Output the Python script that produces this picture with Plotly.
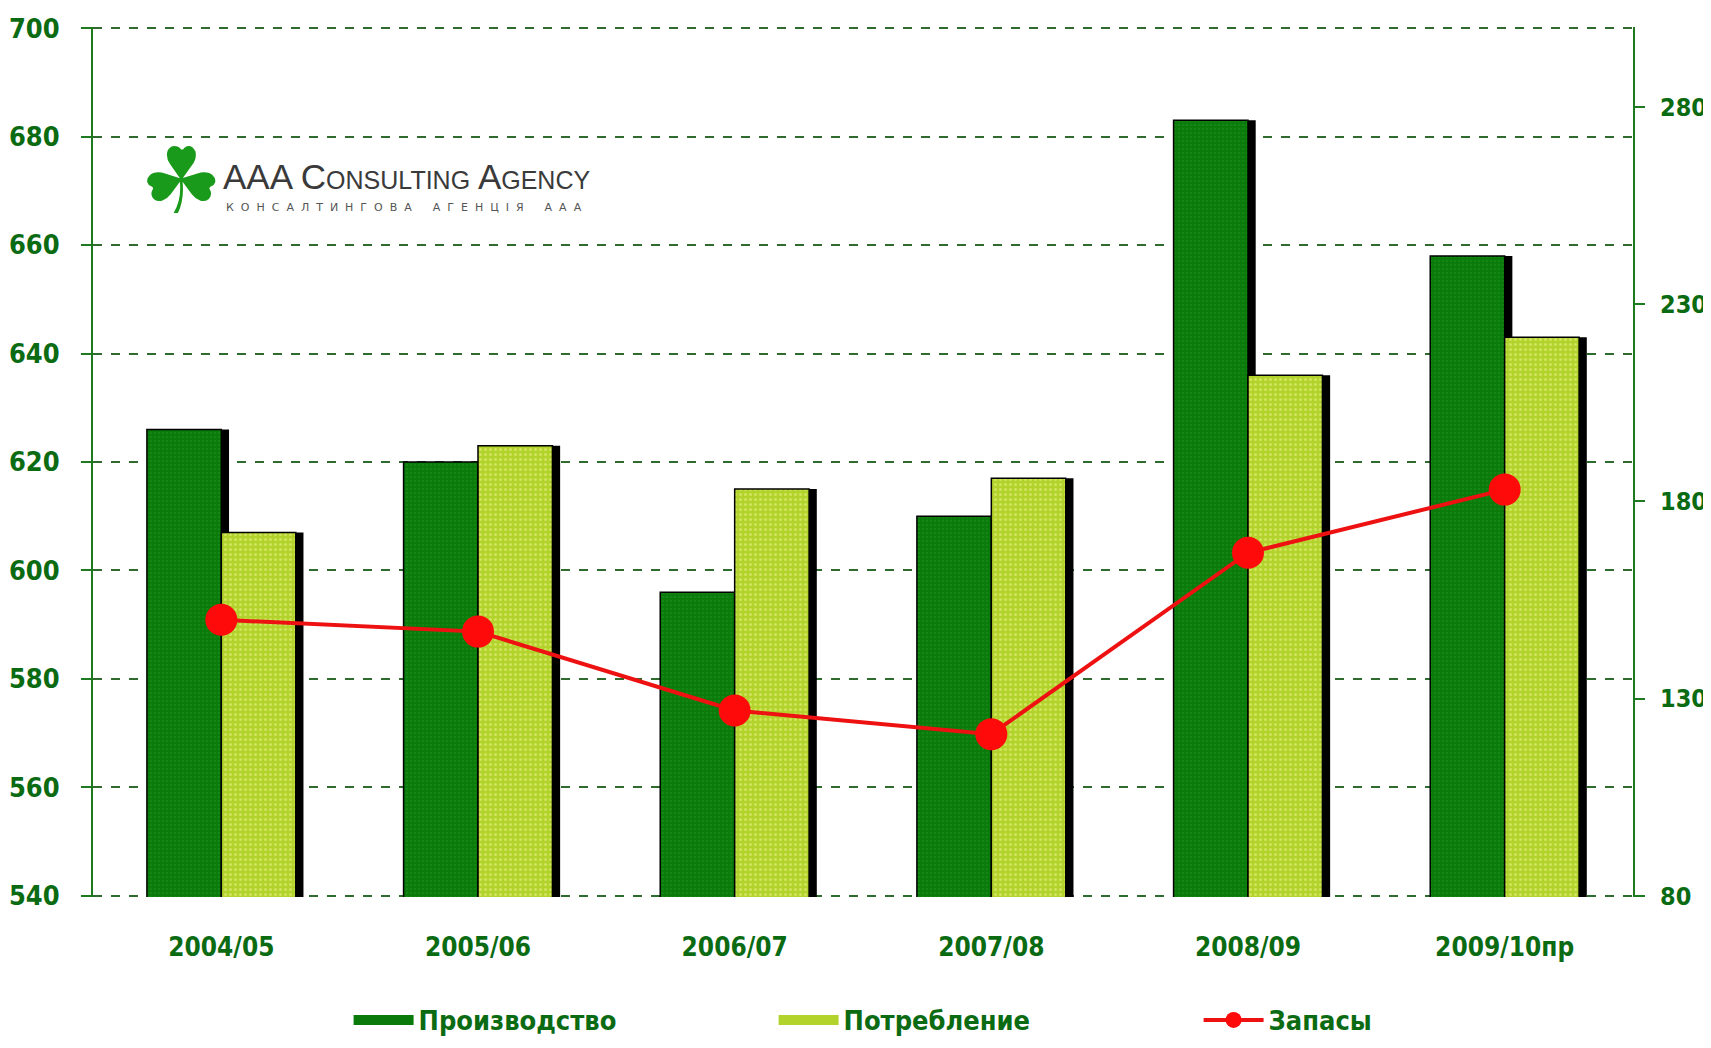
import plotly.graph_objects as go

categories = ["2004/05", "2005/06", "2006/07", "2007/08", "2008/09", "2009/10пр"]
production = [626, 620, 596, 610, 683, 658]
consumption = [607, 623, 615, 617, 636, 643]
stocks = [150, 147, 127, 121, 167, 183]

left_ticks = [540, 560, 580, 600, 620, 640, 660, 680, 700]
right_ticks = [80, 130, 180, 230, 280]

TXT = "#0b6b12"
FONT = "DejaVu Sans Condensed"
BW = 0.29
SH = 0.03
PROD_C = "#0a7a0a"
CONS_C = "#b2d22c"

fig = go.Figure()

# shadows + bars
fig.add_trace(go.Bar(x=categories, y=production, offset=-BW + SH, width=BW,
                     marker=dict(color="black", line=dict(width=0)),
                     showlegend=False, hoverinfo="skip"))
fig.add_trace(go.Bar(x=categories, y=production, offset=-BW, width=BW, name="Производство",
                     showlegend=False,
                     marker=dict(color=PROD_C, line=dict(color="black", width=1.5),
                                 pattern=dict(shape=".", bgcolor=PROD_C, fgcolor="#1c941c",
                                              size=4, solidity=0.35))))
fig.add_trace(go.Bar(x=categories, y=consumption, offset=SH, width=BW,
                     marker=dict(color="black", line=dict(width=0)),
                     showlegend=False, hoverinfo="skip"))
fig.add_trace(go.Bar(x=categories, y=consumption, offset=0, width=BW, name="Потребление",
                     showlegend=False,
                     marker=dict(color=CONS_C, line=dict(color="black", width=1.5),
                                 pattern=dict(shape=".", bgcolor=CONS_C, fgcolor="#eef58a",
                                              size=5, solidity=0.3))))
fig.add_trace(go.Scatter(x=categories, y=stocks, name="Запасы", yaxis="y2",
                         mode="lines+markers",
                         line=dict(color="#ee1111", width=4),
                         marker=dict(color="#ff0a0a", size=32), showlegend=False))

# legend entries (wide rectangular swatches)
fig.add_trace(go.Scatter(x=[None], y=[None], name="Производство", mode="lines",
                         line=dict(color=PROD_C, width=20)))
fig.add_trace(go.Scatter(x=[None], y=[None], name="Потребление", mode="lines",
                         line=dict(color=CONS_C, width=20)))
fig.add_trace(go.Scatter(x=[None], y=[None], name="Запасы", mode="lines+markers",
                         line=dict(color="#ee1111", width=4),
                         marker=dict(color="#ff0a0a", size=18)))

# logo
fig.add_annotation(xref="paper", yref="paper", x=0.057, y=0.822, text="☘",
                   showarrow=False, font=dict(family="DejaVu Sans", size=92, color="#1a9a1a"),
                   xanchor="center", yanchor="middle")
fig.add_annotation(xref="paper", yref="paper", x=0.083, y=0.828,
                   text="AAA C<span style='font-size:25px'>ONSULTING</span> A<span style='font-size:25px'>GENCY</span>",
                   showarrow=False, font=dict(family="Liberation Sans", size=35, color="#3a3a3a"),
                   xanchor="left", yanchor="middle")
fig.add_annotation(xref="paper", yref="paper", x=0.085, y=0.792,
                   text="К  О  Н  С  А  Л  Т  И  Н  Г  О  В  А      А  Г  Е  Н  Ц  І  Я      А  А  А",
                   showarrow=False, font=dict(family="DejaVu Sans", size=11, color="#555555"),
                   xanchor="left", yanchor="middle")

fig.update_layout(
    width=1703, height=1032,
    paper_bgcolor="white", plot_bgcolor="white",
    barmode="overlay",
    margin=dict(l=85, r=78, t=19, b=143, autoexpand=False),
    font=dict(family=FONT, color=TXT),
    xaxis=dict(range=[-0.5, 5.5], showline=False, showgrid=False, ticks="",
               tickfont=dict(family=FONT, size=26, color=TXT, weight="bold"),
               ticklabelstandoff=32, automargin=False),
    yaxis=dict(range=[539.8, 700.2], tickvals=left_ticks, showgrid=True,
               gridcolor="#2f6b2f", griddash="dash", gridwidth=2,
               showline=True, linecolor="#1e7a1e", linewidth=2,
               ticks="outside", ticklen=10, tickcolor="#1e7a1e", tickwidth=2,
               tickfont=dict(family=FONT, size=27, color=TXT, weight="bold"),
               ticklabelstandoff=16, zeroline=False, automargin=False),
    yaxis2=dict(range=[79.725, 300.275], tickvals=right_ticks, overlaying="y", side="right",
                anchor="x", showgrid=False, showline=True, linecolor="#1e7a1e", linewidth=2,
                ticks="outside", ticklen=10, tickcolor="#1e7a1e", tickwidth=2,
                tickfont=dict(family=FONT, size=25, color=TXT, weight="bold"),
                ticklabelstandoff=10, zeroline=False),
    legend=dict(orientation="h", xref="container", yref="container",
                x=0.2, xanchor="left", y=0.019, yanchor="middle",
                font=dict(family=FONT, size=27, color=TXT, weight="bold"),
                entrywidth=350, entrywidthmode="pixels", itemwidth=60,
                bgcolor="rgba(0,0,0,0)"),
    showlegend=True,
)

fig.write_html("out.html")
